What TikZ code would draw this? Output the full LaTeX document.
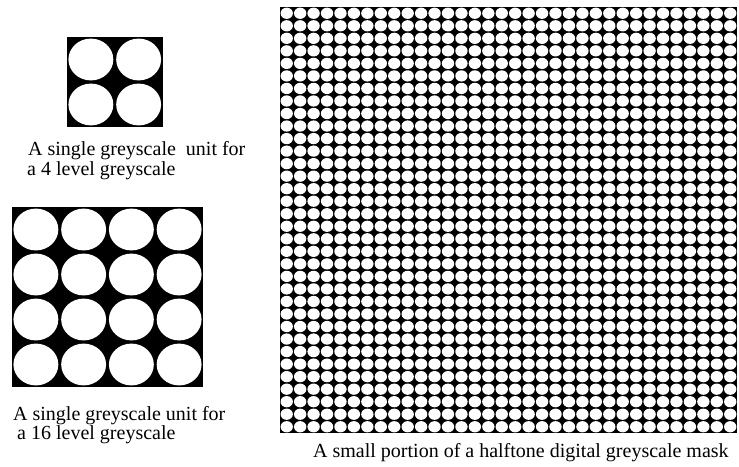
\documentclass[tikz,border=0pt]{standalone}
\usepackage{fontspec}
\setmainfont{Liberation Serif}
\tikzset{
  hole/.style={fill=white},
  caption/.style={anchor=base west, inner sep=0pt, font=\fontsize{20}{20}\selectfont},
}
\begin{document}
\begin{tikzpicture}[x=1pt,y=-1pt]
		\def\cw{47.75}
		\def\ch{45}
		\def\mw{13.44}
		\def\mh{12.53}
		\useasboundingbox (0,0) rectangle (739,466);

		% --- 4 level unit (2x2) ---
		\fill[black] (67,37) rectangle ++(2*\cw,2*\ch);
		\foreach \i in {0,1}
			\foreach \j in {0,1}
				\fill[hole] (67+\i*\cw+0.5*\cw, 37+\j*\ch+0.5*\ch) ellipse [x radius={0.47*\cw pt}, y radius={0.465*\ch pt}];

		% --- 16 level unit (4x4) ---
		\fill[black] (12,207) rectangle ++(4*\cw,4*\ch);
		\foreach \i in {0,...,3}
			\foreach \j in {0,...,3}
				\fill[hole] (12+\i*\cw+0.5*\cw, 207+\j*\ch+0.5*\ch) ellipse [x radius={0.47*\cw pt}, y radius={0.465*\ch pt}];

		% --- Halftone mask (34x34) ---
		\fill[black] (280,7) rectangle ++(34*\mw,34*\mh);
		\foreach \i in {0,...,33}
			\foreach \j in {0,...,33}
				\fill[hole] (280+\i*\mw+0.5*\mw, 7+\j*\mh+0.5*\mh) ellipse [x radius={0.46*\mw pt}, y radius={0.45*\mh pt}];

		% --- Captions ---
		\node[caption] (fourA) at (28,155) {A single greyscale\ \ unit for};
		\node[caption] (fourB) at (27,175) {a 4 level greyscale};
		\node[caption] (sixteenA) at (13,420) {A single greyscale unit for};
		\node[caption] (sixteenB) at (17,439) {a 16 level greyscale};
		\node[caption] (maskcap) at (313,457) {A small portion of a halftone digital greyscale mask};
	\end{tikzpicture}
\end{document}
